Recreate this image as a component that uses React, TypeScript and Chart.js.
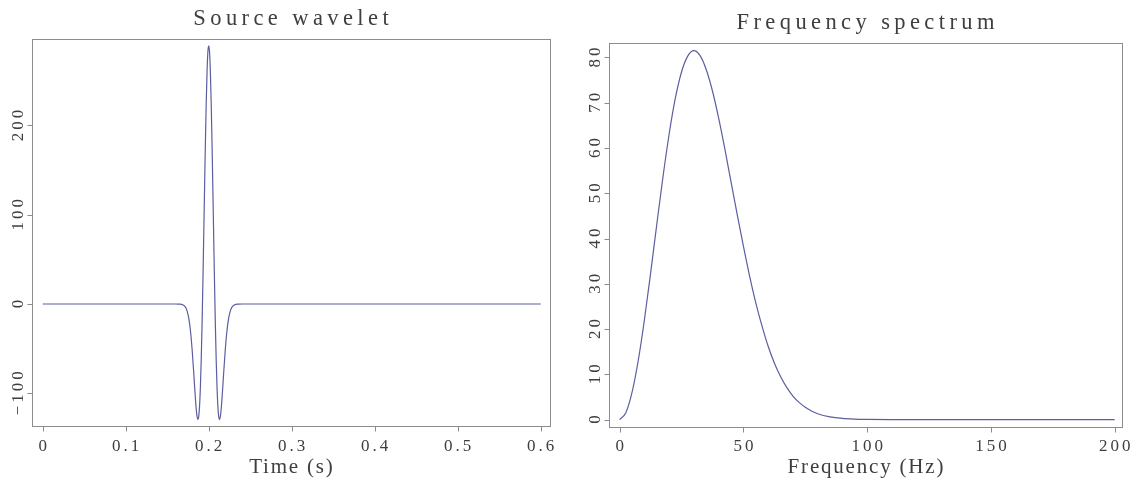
import React, { useEffect, useRef } from 'react';
import { Chart, registerables } from 'chart.js';

Chart.register(...registerables);

// ---------- Source wavelet (time in s, amplitude) ----------
const waveTime = [
  0, 0.05, 0.1, 0.15, 0.16, 0.164, 0.166, 0.168, 0.17, 0.172, 0.174, 0.176, 0.178, 0.18, 0.182,
  0.183, 0.184, 0.185, 0.186, 0.187, 0.188, 0.189, 0.19, 0.191, 0.192, 0.193, 0.194, 0.195,
  0.196, 0.197, 0.198, 0.199, 0.2, 0.201, 0.202, 0.203, 0.204, 0.205, 0.206, 0.207, 0.208,
  0.209, 0.21, 0.211, 0.212, 0.213, 0.214, 0.215, 0.216, 0.217, 0.218, 0.22, 0.222, 0.224,
  0.226, 0.228, 0.23, 0.232, 0.234, 0.236, 0.24, 0.3, 0.4, 0.5, 0.6,
];
const waveAmp = [
  0, 0, 0, 0, 0, -0.1, -0.2, -0.6, -1.5, -3.5, -7.9, -16.1, -29.9, -50.7, -77.6,
  -92.0, -105.9, -117.8, -126.2, -129.4, -125.7, -113.8, -92.6, -62.0, -22.5, 24.3, 75.9, 129.1,
  180.1, 224.9, 260.0, 282.3, 289.0, 282.3, 260.0, 224.9, 180.1, 129.1, 75.9, 24.3, -22.5,
  -62.0, -92.6, -113.8, -125.7, -129.4, -126.2, -117.8, -105.9, -92.0, -77.6, -50.7, -29.9, -16.1,
  -7.9, -3.5, -1.5, -0.6, -0.2, -0.1, 0, 0, 0, 0, 0,
];
const waveXTicks = [0, 0.1, 0.2, 0.3, 0.4, 0.5, 0.6];
const waveXLabels = ['0', '0.1', '0.2', '0.3', '0.4', '0.5', '0.6'];
const waveYTicks = [-100, 0, 100, 200];
const waveYLabels = ['\u2212100', '0', '100', '200'];

// ---------- Frequency spectrum (Hz, amplitude) ----------
const specFreq = [
  0, 2.5, 5, 7.5, 10, 12.5, 15, 17.5, 20, 22.5, 25, 27.5, 30, 32.5, 35, 37.5, 40, 42.5, 45,
  47.5, 50, 52.5, 55, 57.5, 60, 62.5, 65, 67.5, 70, 72.5, 75, 77.5, 80, 85, 90, 95, 100, 110,
  120, 150, 200,
];
const specAmp = [
  0, 1.5, 6.0, 13.0, 22.0, 32.3, 43.1, 53.6, 63.1, 71.0, 76.8, 80.3, 81.5, 80.4, 77.3, 72.6,
  66.6, 59.8, 52.5, 45.3, 38.3, 31.7, 25.8, 20.7, 16.2, 12.5, 9.5, 7.1, 5.2, 3.8, 2.7, 1.9, 1.3,
  0.6, 0.25, 0.1, 0.04, 0, 0, 0, 0,
];
const specXTicks = [0, 50, 100, 150, 200];
const specXLabels = ['0', '50', '100', '150', '200'];
const specYTicks = [0, 10, 20, 30, 40, 50, 60, 70, 80];
const specYLabels = ['0', '10', '20', '30', '40', '50', '60', '70', '80'];

const FONT = '"Liberation Serif", "Times New Roman", serif';
const TEXT = '#3e3e3e';
const BOX = '#8c8c8c';
const LINE = '#5b5e9f';

const framePlugin = {
  id: 'frame',
  afterDraw(chart: any, _args: any, o: any) {
    const ctx: CanvasRenderingContext2D = chart.ctx;
    const { left, right, top, bottom } = chart.chartArea;
    const xs = chart.scales.x;
    const ys = chart.scales.y;
    ctx.save();
    ctx.strokeStyle = BOX;
    ctx.lineWidth = 1;
    ctx.strokeRect(Math.round(left) + 0.5, Math.round(top) + 0.5, Math.round(right - left), Math.round(bottom - top));
    ctx.beginPath();
    xs.ticks.forEach((t: any) => {
      const px = Math.round(xs.getPixelForValue(t.value)) + 0.5;
      ctx.moveTo(px, Math.round(bottom) + 0.5);
      ctx.lineTo(px, Math.round(bottom) + 0.5 + o.tickLen);
    });
    ys.ticks.forEach((t: any) => {
      const py = Math.round(ys.getPixelForValue(t.value)) + 0.5;
      ctx.moveTo(Math.round(left) + 0.5, py);
      ctx.lineTo(Math.round(left) + 0.5 - o.tickLen, py);
    });
    ctx.stroke();

    const drawSpaced = (text: string, x: number, y: number, spacing: number) => {
      (ctx as any).letterSpacing = spacing + 'px';
      ctx.textAlign = 'center';
      ctx.textBaseline = 'alphabetic';
      ctx.fillText(text, x + spacing / 2, y);
    };
    ctx.fillStyle = TEXT;
    ctx.font = `${o.tickSize}px ${FONT}`;
    xs.ticks.forEach((t: any, i: number) => {
      drawSpaced(o.xLabels[i], xs.getPixelForValue(t.value), o.xTickBaseline, o.tickSpacing);
    });
    ys.ticks.forEach((t: any, i: number) => {
      ctx.save();
      ctx.translate(left - o.yLabelGap, ys.getPixelForValue(t.value));
      ctx.rotate(-Math.PI / 2);
      drawSpaced(o.yLabels[i], 0, 0, o.tickSpacing);
      ctx.restore();
    });
    ctx.font = `${o.axisSize}px ${FONT}`;
    drawSpaced(o.xTitle, (left + right) / 2, o.xTitleBaseline, o.axisSpacing);
    ctx.font = `${o.titleSize}px ${FONT}`;
    drawSpaced(o.title, (left + right) / 2, top - o.titleGap, o.titleSpacing);
    ctx.restore();
  },
};

type PanelProps = {
  xs: number[];
  ys: number[];
  xTicks: number[];
  yTicks: number[];
  xLabels: string[];
  yLabels: string[];
  xMin: number;
  xMax: number;
  yMin: number;
  yMax: number;
  width: number;
  height: number;
  padTop: number;
  padRight: number;
  yAxisWidth: number;
  xAxisHeight: number;
  title: string;
  xTitle: string;
  left: number;
};

function Panel(p: PanelProps) {
  const ref = useRef<HTMLCanvasElement | null>(null);
  useEffect(() => {
    if (!ref.current) return;
    const points = p.xs.map((x, i) => ({ x, y: p.ys[i] }));
    const chart = new Chart(ref.current, {
      type: 'line',
      data: {
        datasets: [
          {
            data: points,
            borderColor: LINE,
            borderWidth: 1.2,
            pointRadius: 0,
            fill: false,
            cubicInterpolationMode: 'monotone',
          },
        ],
      },
      options: {
        responsive: false,
        animation: false,
        events: [],
        layout: { padding: { top: p.padTop, right: p.padRight, bottom: 0, left: 0 } },
        scales: {
          x: {
            type: 'linear',
            min: p.xMin,
            max: p.xMax,
            grid: { display: false },
            border: { display: false },
            ticks: { display: false },
            afterBuildTicks: (s: any) => {
              s.ticks = p.xTicks.map((v) => ({ value: v }));
            },
            afterFit: (s: any) => {
              s.height = p.xAxisHeight;
            },
          },
          y: {
            type: 'linear',
            min: p.yMin,
            max: p.yMax,
            grid: { display: false },
            border: { display: false },
            ticks: { display: false },
            afterBuildTicks: (s: any) => {
              s.ticks = p.yTicks.map((v) => ({ value: v }));
            },
            afterFit: (s: any) => {
              s.width = p.yAxisWidth;
            },
          },
        },
        plugins: {
          legend: { display: false },
          tooltip: { enabled: false },
          frame: {
            tickLen: 5,
            tickSize: 17,
            tickSpacing: 3,
            axisSize: 21,
            axisSpacing: 1.8,
            titleSize: 22.5,
            titleSpacing: 4.4,
            titleGap: 14.5,
            xTickBaseline: 450.5,
            xTitleBaseline: 473.3,
            yLabelGap: 9,
            xLabels: p.xLabels,
            yLabels: p.yLabels,
            xTitle: p.xTitle,
            title: p.title,
          },
        } as any,
      },
      plugins: [framePlugin],
    } as any);
    return () => chart.destroy();
  }, []);
  return (
    <canvas
      ref={ref}
      width={p.width}
      height={p.height}
      style={{ position: 'absolute', left: p.left, top: 0, width: p.width, height: p.height, display: 'block' }}
    />
  );
}

export default function App() {
  return (
    <div style={{ position: 'absolute', left: 0, top: 0, width: 1139, height: 484, background: '#fff' }}>
      <Panel
        xs={waveTime}
        ys={waveAmp}
        xTicks={waveXTicks}
        yTicks={waveYTicks}
        xLabels={waveXLabels}
        yLabels={waveYLabels}
        xMin={-0.0129}
        xMax={0.6112}
        yMin={-136.6}
        yMax={296.8}
        width={570}
        height={484}
        padTop={39}
        padRight={20}
        yAxisWidth={32}
        xAxisHeight={58}
        title="Source wavelet"
        xTitle="Time (s)"
        left={0}
      />
      <Panel
        xs={specFreq}
        ys={specAmp}
        xTicks={specXTicks}
        yTicks={specYTicks}
        xLabels={specXLabels}
        yLabels={specYLabels}
        xMin={-4.3}
        xMax={202.95}
        yMin={-1.64}
        yMax={83.2}
        width={569}
        height={484}
        padTop={43}
        padRight={17}
        yAxisWidth={39}
        xAxisHeight={57}
        title="Frequency spectrum"
        xTitle="Frequency (Hz)"
        left={570}
      />
    </div>
  );
}
